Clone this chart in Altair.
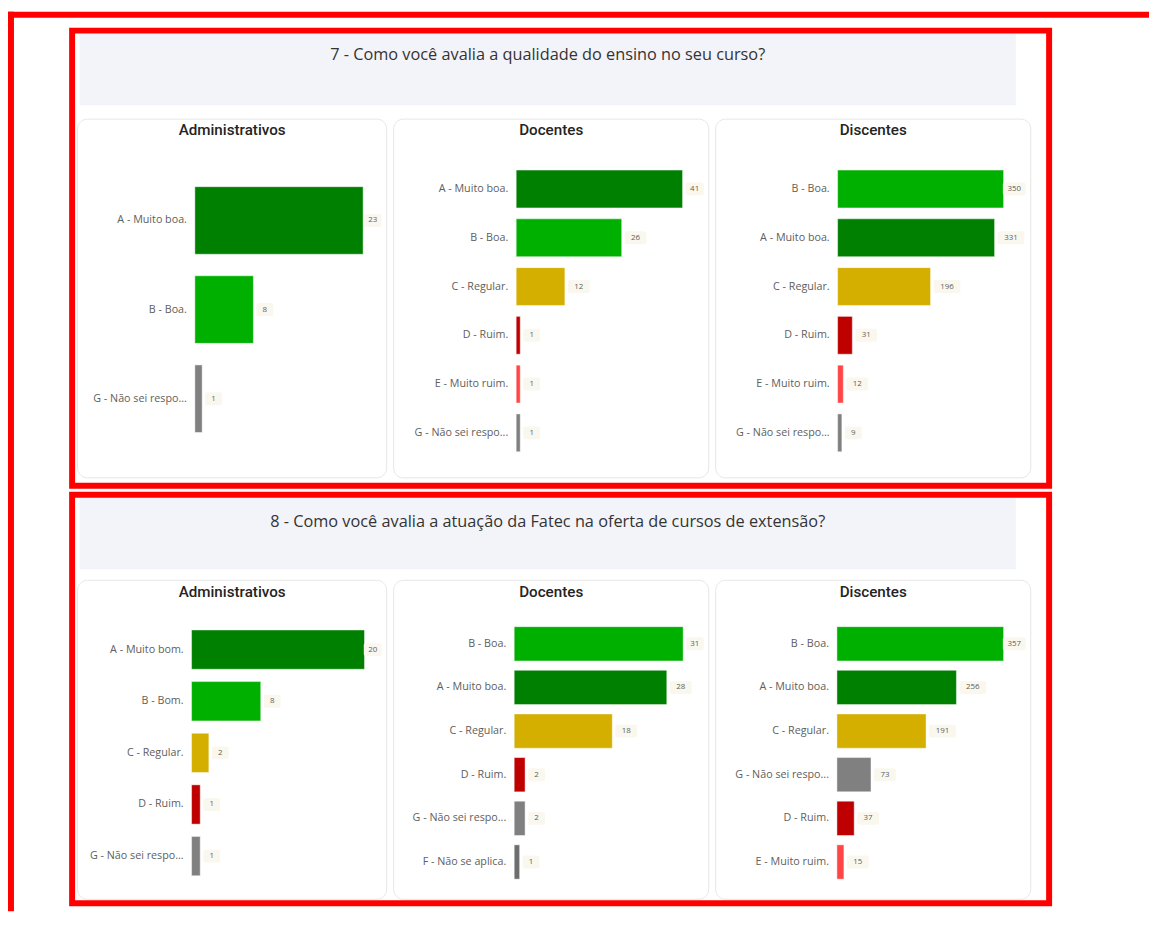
import altair as alt
import pandas as pd

# ---------------- data ----------------
q7_title = "7 - Como você avalia a qualidade do ensino no seu curso?"
q8_title = "8 - Como você avalia a atuação da Fatec na oferta de cursos de extensão?"
groups = ["Administrativos", "Docentes", "Discentes"]

q7_adm_cats = ["A - Muito boa.", "B - Boa.", "G - Não sei responder."]
q7_adm_vals = [23, 8, 1]
q7_doc_cats = ["A - Muito boa.", "B - Boa.", "C - Regular.", "D - Ruim.", "E - Muito ruim.", "G - Não sei responder."]
q7_doc_vals = [41, 26, 12, 1, 1, 1]
q7_dis_cats = ["B - Boa.", "A - Muito boa.", "C - Regular.", "D - Ruim.", "E - Muito ruim.", "G - Não sei responder."]
q7_dis_vals = [350, 331, 196, 31, 12, 9]

q8_adm_cats = ["A - Muito bom.", "B - Bom.", "C - Regular.", "D - Ruim.", "G - Não sei responder."]
q8_adm_vals = [20, 8, 2, 1, 1]
q8_doc_cats = ["B - Boa.", "A - Muito boa.", "C - Regular.", "D - Ruim.", "G - Não sei responder.", "F - Não se aplica."]
q8_doc_vals = [31, 28, 18, 2, 2, 1]
q8_dis_cats = ["B - Boa.", "A - Muito boa.", "C - Regular.", "G - Não sei responder.", "D - Ruim.", "E - Muito ruim."]
q8_dis_vals = [357, 256, 191, 73, 37, 15]

all_cats = ["A - Muito boa.", "A - Muito bom.", "B - Boa.", "B - Bom.", "C - Regular.",
            "D - Ruim.", "E - Muito ruim.", "F - Não se aplica.", "G - Não sei responder."]
letter_colors = {"A": "#008000", "B": "#00B000", "C": "#D4AF00", "D": "#BF0000",
                 "E": "#FF4545", "F": "#6E6E6E", "G": "#808080"}

# ---------------- style ----------------
RED = "#FF0000"
LABEL_FONT = "Open Sans"
TITLE_FONT = "Roboto"
color_scale = alt.Scale(domain=all_cats, range=[letter_colors[c[0]] for c in all_cats])


def panel(title, cats, vals, ox, oy, w, h, xr, yr, pin, title_y):
    df = pd.DataFrame({"cat": cats, "v": vals})
    vmax = max(vals)
    f = (xr[1] - xr[0]) / vmax
    lim = w - 5 - xr[0]
    base = alt.Chart(df)
    xs = alt.Scale(domain=[0, vmax], range=[ox + xr[0], ox + xr[1]], nice=False, zero=True)
    ys = alt.Scale(range=[oy + yr[0], oy + yr[1]], paddingInner=pin, paddingOuter=0)
    y = alt.Y("cat:N", sort=cats, scale=ys, axis=None)

    one = alt.Chart(pd.DataFrame({"t": [title]}))
    card = one.mark_rect(fill="white", stroke="#E6E6E6", strokeWidth=1, cornerRadius=10).encode(
        x=alt.value(ox), x2=alt.value(ox + w), y=alt.value(oy), y2=alt.value(oy + h))
    ttl = one.mark_text(font=TITLE_FONT, fontSize=15.3, fontWeight=500, color="#252423",
                        baseline="middle").encode(
        x=alt.value(ox + w / 2), y=alt.value(oy + title_y), text="t:N")

    bars = base.mark_bar(stroke="white", strokeOpacity=0.45, strokeWidth=1).encode(
        x=alt.X("v:Q", scale=xs, axis=None),
        y=y,
        color=alt.Color("cat:N", scale=color_scale, legend=None),
    )
    calc = base.transform_calculate(
        nd="length(toString(datum.v))"
    ).transform_calculate(
        p0=f"min(datum.v*{f} + 3, {lim} - (8 + 5*datum.nd))",
        p1=f"min(datum.v*{f} + 3 + 12 + 5*datum.nd, {lim})",
    ).transform_calculate(
        l0=f"datum.p0/{f}",
        l1=f"datum.p1/{f}",
        lc=f"(datum.p0 + datum.p1)/2/{f}",
    )
    bg = calc.mark_bar(size=13, cornerRadius=2, color="#FAF8EE").encode(
        x=alt.X("l0:Q", scale=xs, axis=None), x2="l1:Q", y=y
    )
    val_txt = calc.mark_text(font=LABEL_FONT, fontSize=8, color="#605E5C", baseline="middle").encode(
        x=alt.X("lc:Q", scale=xs, axis=None), y=y, text="v:Q"
    )
    cat_txt = base.mark_text(font=LABEL_FONT, fontSize=10.8, color="#605E5C", align="right",
                             baseline="middle", limit=99, ellipsis="...").encode(
        x=alt.value(ox + xr[0] - 8), y=y, text="cat:N"
    )
    return [card, ttl, alt.layer(bars, bg, val_txt, cat_txt).resolve_scale(x="shared", y="shared")]


def header(text, oy, ty, box_y1, box_y2, outer=False):
    t = alt.Chart(pd.DataFrame({"t": [text]}))
    band = t.mark_rect(color="#F3F4F9").encode(
        x=alt.value(2), x2=alt.value(944), y=alt.value(oy), y2=alt.value(oy + 72))
    ttl = t.mark_text(font=LABEL_FONT, fontSize=16.4, color="#333333", baseline="middle").encode(
        x=alt.value(473), y=alt.value(oy + ty), text="t:N")
    box = t.mark_rect(fillOpacity=0, stroke=RED, strokeWidth=6).encode(
        x=alt.value(-5.5), x2=alt.value(977.5), y=alt.value(box_y1), y2=alt.value(box_y2))
    layers = [band, ttl, box]
    if outer:
        # outer frame: top and left bands (filled, so their bounds are exact)
        top = t.mark_rect(color=RED).encode(
            x=alt.value(-70), x2=alt.value(1078), y=alt.value(-22), y2=alt.value(-16))
        left = t.mark_rect(color=RED).encode(
            x=alt.value(-70), x2=alt.value(-64), y=alt.value(-22), y2=alt.value(883))
        layers += [top, left]
    return layers


# panel origins (relative to the first header band)
X0 = [0, 318, 642]
W = [311, 317, 317]
Y7, Y8 = 86, 550

layers = []
layers += header(q7_title, 0, 22, -3, 455, outer=True)
layers += header(q8_title, 467, 24.5, 464, 875)
layers += panel(groups[0], q7_adm_cats, q7_adm_vals, X0[0], Y7, W[0], 361, (118, 287.3), (68, 315.3), 0.242, 11)
layers += panel(groups[1], q7_doc_cats, q7_doc_vals, X0[1], Y7, W[1], 361, (123.3, 290.7), (51.3, 334.7), 0.2245, 11)
layers += panel(groups[2], q7_dis_cats, q7_dis_vals, X0[2], Y7, W[2], 361, (122.7, 289.7), (51.3, 334.7), 0.2245, 11)
layers += panel(groups[0], q8_adm_cats, q8_adm_vals, X0[0], Y8, W[0], 321, (114.7, 288.7), (50, 297.3), 0.239, 11.5)
layers += panel(groups[1], q8_doc_cats, q8_doc_vals, X0[1], Y8, W[1], 321, (121.3, 291.3), (46.7, 300.7), 0.214, 11.5)
layers += panel(groups[2], q8_dis_cats, q8_dis_vals, X0[2], Y8, W[2], 321, (122, 289.7), (46.7, 300.7), 0.214, 11.5)

chart = alt.layer(*layers).resolve_scale(x="independent", y="independent").properties(
    width=959, height=871,
    padding={"left": 0, "top": 1, "right": 0, "bottom": 0},
).configure_view(stroke="transparent")

chart.save("out.html", embed_options={"renderer": "svg", "actions": False})
